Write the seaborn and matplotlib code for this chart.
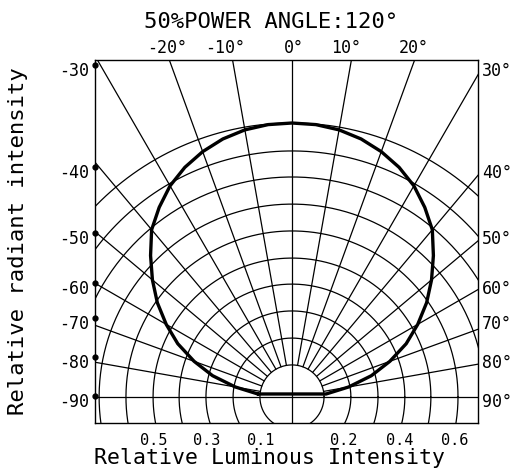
import numpy as np
import pandas as pd
import matplotlib
matplotlib.use('Agg')
import matplotlib.pyplot as plt
import matplotlib.transforms as mtransforms
import seaborn as sns

# Radiation pattern, relative intensity vs. angle from the optical axis
ANGLES = [-85, -80, -75, -70, -65, -60, -55, -50, -45, -40, -35, -30, -25, -20, -15, -10, -5, 0,
          5, 10, 15, 20, 25, 30, 35, 40, 45, 50, 55, 60, 65, 70, 75, 80, 85]
INTENSITY = [0.125, 0.21, 0.30, 0.38, 0.46, 0.53, 0.60, 0.665, 0.73, 0.797, 0.845, 0.89, 0.925, 0.953, 0.975, 0.99, 0.998, 1.0,
             0.998, 0.99, 0.975, 0.953, 0.925, 0.89, 0.845, 0.797, 0.73, 0.665, 0.60, 0.53, 0.46, 0.38, 0.30, 0.21, 0.125]

# polar grid
ARC_RADII = [0.117, 0.215, 0.314, 0.412, 0.507, 0.606, 0.704, 0.803, 0.898, 1.0]
RAY_ANGLES = [-80, -70, -60, -50, -40, -30, -20, -10, 10, 20, 30, 40, 50, 60, 70, 80]

# axis labels
SIDE_TICKS = [1.197, 0.825, 0.584, 0.401, 0.274, 0.131, -0.011]
LEFT_LABELS = ['-30', '-40', '-50', '-60', '-70', '-80', '-90']
RIGHT_LABELS = ['30°', '40°', '50°', '60°', '70°', '80°', '90°']
TOP_TICKS = [-0.456, -0.245, 0.007, 0.197, 0.445]
TOP_LABELS = ['-20°', '-10°', '0°', '10°', '20°']
BOTTOM_TICKS = [-0.504, -0.310, -0.113, 0.190, 0.394, 0.595]
BOTTOM_LABELS = ['0.5', '0.3', '0.1', '0.2', '0.4', '0.6']

XLIM = (-0.719, 0.679)
YLIM = (-0.095, 1.230)


def main():
    sns.set_style("white")
    plt.rcParams['font.family'] = ['DejaVu Sans Mono', 'DejaVu Sans']
    plt.rcParams['text.color'] = 'black'
    plt.rcParams['xtick.color'] = 'black'
    plt.rcParams['ytick.color'] = 'black'

    fig = plt.figure(figsize=(5.12, 4.73), dpi=100)
    ax = fig.add_axes([95 / 512, 50 / 473, 383 / 512, 363 / 473])
    ax.set_xlim(*XLIM)
    ax.set_ylim(*YLIM)

    # concentric arcs
    t = np.linspace(0, 2 * np.pi, 500)
    for r in ARC_RADII:
        ax.plot(r * np.cos(t), r * np.sin(t), color='black', lw=0.9)

    # rays every 10 degrees
    r0 = ARC_RADII[0]
    for a in RAY_ANGLES:
        th = np.radians(a)
        ax.plot([r0 * np.sin(th), 2 * np.sin(th)], [r0 * np.cos(th), 2 * np.cos(th)],
                color='black', lw=0.9)
    ax.axvline(0, color='black', lw=0.9)
    ax.axhline(0, color='black', lw=0.9)

    # the pattern itself (closed curve)
    th = np.radians(ANGLES + ANGLES[:1])
    r = np.array(INTENSITY + INTENSITY[:1])
    df = pd.DataFrame({'x': r * np.sin(th), 'y': r * np.cos(th)})
    sns.lineplot(data=df, x='x', y='y', sort=False, estimator=None,
                 color='black', lw=2.4, ax=ax)

    for s in ax.spines.values():
        s.set_color('black')
        s.set_linewidth(1.0)

    ax.set_xlabel('')
    ax.set_ylabel('')
    ax.set_xticks(BOTTOM_TICKS, BOTTOM_LABELS, fontsize=11)
    ax.set_yticks(SIDE_TICKS, LEFT_LABELS, fontsize=12)
    ax.tick_params(length=0, pad=4, labelcolor='black')
    ax.tick_params(axis='x', pad=7)

    axr = ax.twinx()
    axr.set_ylim(*YLIM)
    axr.set_yticks(SIDE_TICKS, RIGHT_LABELS, fontsize=12)
    axr.tick_params(length=0, pad=3, labelcolor='black')

    axt = ax.twiny()
    axt.set_xlim(*XLIM)
    axt.set_xticks(TOP_TICKS, TOP_LABELS, fontsize=12)
    axt.tick_params(length=0, pad=2, labelcolor='black')
    for a2 in (axr, axt):
        for s in a2.spines.values():
            s.set_visible(False)

    # small dots where the left labels meet the frame
    up = mtransforms.ScaledTranslation(0, 0.04, fig.dpi_scale_trans)
    ax.plot([XLIM[0]] * len(SIDE_TICKS), SIDE_TICKS, 'o', ms=3.5, color='black',
            clip_on=False, transform=ax.transData + up)

    fig.text(0.529, 0.953, '50%POWER ANGLE:120°', ha='center', va='center', fontsize=16)
    fig.text(0.527, 0.032, 'Relative Luminous Intensity', ha='center', va='center', fontsize=15.5)
    fig.text(0.035, 0.49, 'Relative radiant intensity', ha='center', va='center',
             rotation=90, fontsize=16)

    fig.savefig('out.png', dpi=100)
    plt.close(fig)


if __name__ == "__main__":
    main()
